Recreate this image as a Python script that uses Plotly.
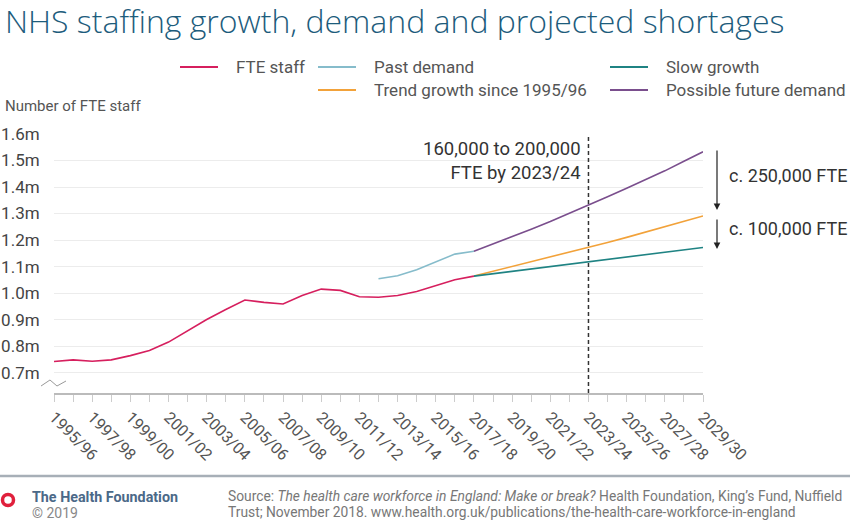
import plotly.graph_objects as go

# year labels on the x axis, 1995/96 .. 2029/30
years = [f'{y}/{str(y + 1)[-2:]}' for y in range(1995, 2030)]

fte_years = years[0:23]
fte_staff = [0.742, 0.748, 0.743, 0.748, 0.764, 0.783, 0.815, 0.858, 0.900, 0.938,
             0.974, 0.965, 0.959, 0.991, 1.015, 1.010, 0.986, 0.984, 0.991, 1.006,
             1.029, 1.050, 1.064]

past_years = years[17:23]
past_demand = [1.054, 1.065, 1.088, 1.119, 1.147, 1.158]

proj_years = years[22:35]
trend_growth = [1.064, 1.082, 1.100, 1.117, 1.135, 1.153, 1.172, 1.191, 1.210, 1.230,
                1.250, 1.270, 1.291]
slow_growth = [1.064, 1.073, 1.082, 1.090, 1.099, 1.108, 1.117, 1.126, 1.135, 1.144,
               1.154, 1.163, 1.172]
future_demand = [1.158, 1.185, 1.213, 1.241, 1.270, 1.300, 1.331, 1.363, 1.395, 1.427,
                 1.461, 1.497, 1.533]

y_ticks = [0.7, 0.8, 0.9, 1.0, 1.1, 1.2, 1.3, 1.4, 1.5, 1.6]
y_labels = [f'{v:.1f}m' for v in y_ticks]

colors = {
    'FTE staff': '#d61f5e',
    'Past demand': '#86bccb',
    'Trend growth since 1995/96': '#f2a23a',
    'Slow growth': '#1f8383',
    'Possible future demand': '#7a4e8d',
}

W, H = 850, 521
L, R, T, B = 54, 703, 134, 393
FONT = 'Roboto, Liberation Sans, sans-serif'


def px(x):
    return (x - L) / (R - L)


def py(y):
    return (B - y) / (B - T)


fig = go.Figure()
series = [
    ('FTE staff', fte_years, fte_staff),
    ('Past demand', past_years, past_demand),
    ('Trend growth since 1995/96', proj_years, trend_growth),
    ('Slow growth', proj_years, slow_growth),
    ('Possible future demand', proj_years, future_demand),
]
for name, xs, ys in series:
    fig.add_trace(go.Scatter(x=xs, y=ys, mode='lines', name=name,
                             line={'color': colors[name], 'width': 1.6},
                             showlegend=False))

shapes = []
annotations = []

# hand-made legend: 3 columns, 2 rows
legend_items = [
    ('FTE staff', 180, 67),
    ('Past demand', 318, 67),
    ('Trend growth since 1995/96', 318, 90),
    ('Slow growth', 610, 67),
    ('Possible future demand', 610, 90),
]
for name, x0, y0 in legend_items:
    shapes.append(dict(type='line', xref='paper', yref='paper',
                       x0=px(x0), x1=px(x0 + 38), y0=py(y0), y1=py(y0),
                       line={'color': colors[name], 'width': 1.8}))
    annotations.append(dict(xref='paper', yref='paper', x=px(x0 + 54), y=py(y0),
                            xanchor='left', yanchor='middle', showarrow=False,
                            text=name, font={'size': 17, 'color': '#555'}))

# 2023/24 marker
mark = years.index('2023/24')
shapes.append(dict(type='line', xref='x', yref='paper', x0=mark, x1=mark, y0=0, y1=1,
                   line={'color': '#333', 'width': 1.5, 'dash': '4px,3px'}))
annotations.append(dict(xref='paper', yref='paper', x=px(583), y=py(161),
                        xanchor='right', yanchor='middle', align='right', showarrow=False,
                        text='160,000 to 200,000<br>FTE by 2023/24',
                        font={'size': 18.5, 'color': '#333'}))

# shortage arrows on the right
for y_tail, y_head, label, y_text in [(149, 210, 'c. 250,000 FTE', 175),
                                      (218, 249, 'c. 100,000 FTE', 228)]:
    annotations.append(dict(xref='paper', yref='paper', x=px(717), y=py(y_head),
                            ax=0, ay=y_tail - y_head, text='', showarrow=True,
                            arrowhead=2, arrowsize=1.1, arrowwidth=1.2, arrowcolor='#222'))
    annotations.append(dict(xref='paper', yref='paper', x=px(727), y=py(y_text),
                            xanchor='left', yanchor='middle', showarrow=False,
                            text=label, font={'size': 18, 'color': '#333'}))

# broken axis zigzag
zig = [(41, 386), (50, 380), (57, 386), (66, 381)]
path = 'M ' + ' L '.join(f'{px(a):.4f},{py(b):.4f}' for a, b in zig)
shapes.append(dict(type='path', xref='paper', yref='paper', path=path,
                   line={'color': '#999', 'width': 1}))

# axis title
annotations.append(dict(xref='paper', yref='paper', x=px(3), y=py(106),
                        xanchor='left', yanchor='middle', showarrow=False,
                        text='Number of FTE staff', font={'size': 15, 'color': '#555'}))

# footer
shapes.append(dict(type='line', xref='paper', yref='paper', x0=px(0), x1=px(W),
                   y0=py(476), y1=py(476), line={'color': '#a7afb7', 'width': 2.5}))
shapes.append(dict(type='circle', xref='paper', yref='paper',
                   x0=px(2.5), x1=px(13.5), y0=py(494.5), y1=py(505.5),
                   line={'color': '#e0203c', 'width': 3.5}))
annotations.append(dict(xref='paper', yref='paper', x=px(30), y=py(497),
                        xanchor='left', yanchor='middle', showarrow=False,
                        text='<b>The Health Foundation</b>',
                        font={'size': 14.3, 'color': '#4b6988'}))
annotations.append(dict(xref='paper', yref='paper', x=px(30), y=py(513),
                        xanchor='left', yanchor='middle', showarrow=False,
                        text='© 2019', font={'size': 14, 'color': '#888'}))
annotations.append(dict(xref='paper', yref='paper', x=px(226), y=py(496),
                        xanchor='left', yanchor='middle', showarrow=False,
                        text='Source: <i>The health care workforce in England: Make or break?</i> '
                             'Health Foundation, King’s Fund, Nuffield',
                        font={'size': 13.8, 'color': '#777'}))
annotations.append(dict(xref='paper', yref='paper', x=px(226), y=py(512),
                        xanchor='left', yanchor='middle', showarrow=False,
                        text='Trust; November 2018. www.health.org.uk/publications/'
                             'the-health-care-workforce-in-england',
                        font={'size': 13.8, 'color': '#777'}))

fig.update_layout(
    width=W, height=H,
    margin={'l': L, 'r': W - R, 't': T, 'b': H - B, 'pad': 0},
    paper_bgcolor='white', plot_bgcolor='white',
    font={'family': FONT, 'color': '#444'},
    title={'text': 'NHS staffing growth, demand and projected shortages',
           'x': 5 / W, 'xanchor': 'left', 'y': 1 - 22 / H, 'yanchor': 'middle',
           'font': {'size': 32, 'color': '#1d5c7c', 'weight': 300,
                    'family': 'Open Sans, Roboto, sans-serif'}},
    shapes=shapes, annotations=annotations,
    showlegend=False,
)
fig.update_xaxes(
    type='category', categoryorder='array', categoryarray=years,
    range=[0, len(years) - 1], automargin=False,
    tickvals=years, ticktext=[y if i % 2 == 0 else '' for i, y in enumerate(years)],
    tickangle=45, tickfont={'size': 16, 'color': '#555'},
    ticks='outside', ticklen=7, tickcolor='#ccc', tickwidth=1,
    showline=True, linecolor='#bbb', linewidth=1.5,
    showgrid=False, zeroline=False,
)
fig.update_yaxes(
    range=[0.623, 1.6], tickvals=y_ticks, ticktext=y_labels, automargin=False,
    tickfont={'size': 17, 'color': '#444'},
    ticks='outside', ticklen=10, tickcolor='rgba(0,0,0,0)',
    showgrid=True, gridcolor='#ececec', gridwidth=1,
    zeroline=False, showline=False,
)

# drop the default body margin so the figure sits at the page corner
fig.write_html('out.html', config={'displayModeBar': False},
               post_script="document.body.style.margin='0';")
